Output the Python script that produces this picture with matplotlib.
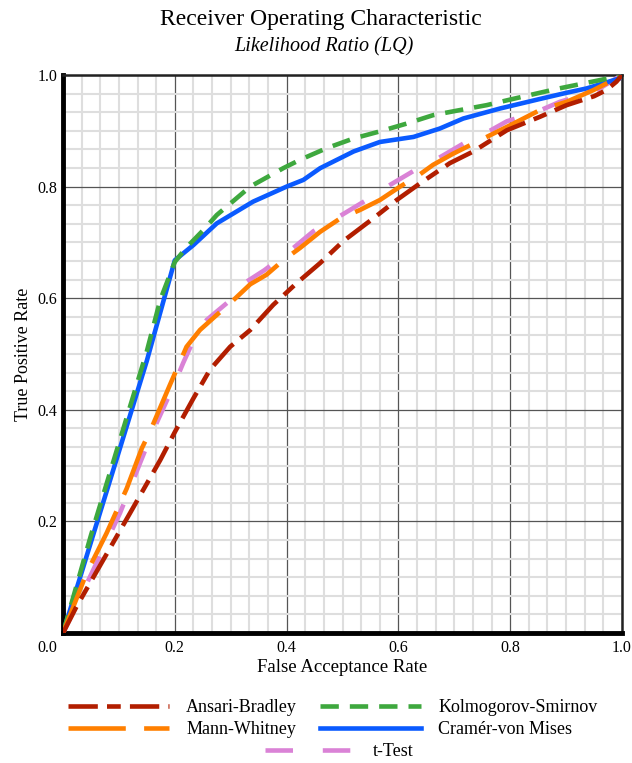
import matplotlib
matplotlib.use("Agg")
import matplotlib.pyplot as plt
import numpy as np
from matplotlib.ticker import MultipleLocator, FixedLocator

plt.rcParams['font.family'] = ['Liberation Serif', 'DejaVu Serif']

# ---- data ----
ab_x = [0, 0.024, 0.072, 0.12, 0.174, 0.2, 0.233, 0.263, 0.299, 0.335, 0.376, 0.418, 0.46, 0.501,
        0.555, 0.597, 0.639, 0.692, 0.734, 0.794, 0.853, 0.901, 0.95, 0.972, 0.99, 1.0]
ab_y = [0, 0.047, 0.131, 0.215, 0.31, 0.36, 0.42, 0.472, 0.513, 0.543, 0.588, 0.627, 0.663, 0.702,
        0.743, 0.776, 0.806, 0.842, 0.863, 0.901, 0.925, 0.946, 0.962, 0.973, 0.988, 1.0]

mw_x = [0, 0.042, 0.078, 0.114, 0.141, 0.156, 0.191, 0.221, 0.245, 0.275, 0.299, 0.335, 0.364, 0.394,
        0.424, 0.46, 0.496, 0.531, 0.567, 0.603, 0.633, 0.662, 0.698, 0.734, 0.782, 0.806, 0.853,
        0.901, 0.949, 0.99, 1.0]
mw_y = [0, 0.107, 0.179, 0.259, 0.331, 0.362, 0.444, 0.513, 0.543, 0.57, 0.591, 0.625, 0.642, 0.668,
        0.69, 0.719, 0.743, 0.758, 0.776, 0.80, 0.818, 0.839, 0.859, 0.877, 0.901, 0.913, 0.937,
        0.952, 0.973, 0.994, 1.0]

ks_x = [0, 0.05, 0.10, 0.15, 0.174, 0.20, 0.22, 0.251, 0.275, 0.335, 0.394, 0.424, 0.472, 0.519,
        0.567, 0.615, 0.662, 0.704, 0.758, 0.80, 0.883, 0.937, 0.99, 1.0]
ks_y = [0, 0.175, 0.34, 0.505, 0.597, 0.665, 0.69, 0.722, 0.749, 0.80, 0.833, 0.848, 0.869, 0.886,
        0.899, 0.913, 0.928, 0.936, 0.946, 0.956, 0.975, 0.986, 0.997, 1.0]

cvm_x = [0, 0.05, 0.10, 0.15, 0.20, 0.233, 0.275, 0.34, 0.40, 0.43, 0.46, 0.52, 0.567, 0.627, 0.674,
         0.716, 0.782, 0.853, 0.90, 0.937, 0.996, 1.0]
cvm_y = [0, 0.163, 0.325, 0.488, 0.668, 0.695, 0.734, 0.773, 0.80, 0.812, 0.833, 0.863, 0.88, 0.889,
         0.904, 0.922, 0.94, 0.957, 0.968, 0.976, 0.994, 1.0]

tt_x = [0, 0.048, 0.102, 0.16, 0.2, 0.215, 0.239, 0.257, 0.30, 0.329, 0.36, 0.40, 0.448, 0.50, 0.543,
        0.58, 0.627, 0.67, 0.716, 0.76, 0.794, 0.85, 0.889, 0.95, 1.0]
tt_y = [0, 0.10, 0.215, 0.36, 0.448, 0.484, 0.537, 0.561, 0.597, 0.63, 0.65, 0.68, 0.72, 0.75, 0.776,
        0.80, 0.828, 0.85, 0.877, 0.898, 0.917, 0.935, 0.952, 0.97, 1.0]

labels = ["Ansari-Bradley", "Mann-Whitney", "Kolmogorov-Smirnov", "Cramér-von Mises", "t-Test"]
colors = ["#b21e00", "#ff7f00", "#3ea83e", "#0a5aff", "#da82d6"]
major_ticks = [0.0, 0.2, 0.4, 0.6, 0.8, 1.0]
tick_labels = ["", "0.2", "0.4", "0.6", "0.8", "1.0"]

# ---- figure ----
fig = plt.figure(figsize=(6.32, 7.63), dpi=100)
ax = fig.add_axes([63/632, 1-633/763, (622-63)/632, (633-75)/763])

lw = 3.3
ax.plot(tt_x, tt_y, color=colors[4], lw=lw, linestyle=(0, (6, 6.5)), label=labels[4], zorder=3,
        dash_capstyle='butt')
ax.plot(cvm_x, cvm_y, color=colors[3], lw=lw, linestyle='-', label=labels[3], zorder=4)
ax.plot(ks_x, ks_y, color=colors[2], lw=lw, linestyle=(0, (4, 2.4)), label=labels[2], zorder=5,
        dash_capstyle='butt')
ax.plot(mw_x, mw_y, color=colors[1], lw=lw, linestyle=(0, (12.5, 4)), label=labels[1], zorder=6,
        dash_capstyle='butt')
ax.plot(ab_x, ab_y, color=colors[0], lw=lw, linestyle=(0, (6.4, 2, 3, 2)), label=labels[0], zorder=7,
        dash_capstyle='butt')

ax.set_xlim(0, 1)
ax.set_ylim(0, 1)
ax.xaxis.set_major_locator(FixedLocator(major_ticks))
ax.yaxis.set_major_locator(FixedLocator(major_ticks))
ax.xaxis.set_minor_locator(MultipleLocator(1/30))
ax.yaxis.set_minor_locator(MultipleLocator(1/30))
ax.set_xticklabels(tick_labels)
ax.set_yticklabels(tick_labels)
ax.tick_params(which='both', length=0)
ax.tick_params(axis='x', pad=5.0, labelsize=11.5)
ax.tick_params(axis='y', pad=4.0, labelsize=11.5)
ax.grid(which='minor', color='#dedede', lw=1.5, zorder=0)
ax.grid(which='major', color='#555555', lw=0.9, zorder=1)
ax.set_axisbelow(True)

for s in ['left', 'bottom']:
    ax.spines[s].set_linewidth(3.5)
    ax.spines[s].set_color('black')
for s in ['top', 'right']:
    ax.spines[s].set_linewidth(1.8)
    ax.spines[s].set_color('#222222')

ax.annotate("0.0", xy=(0, 0), xycoords='data', xytext=(-16, -15), textcoords='offset pixels',
            ha='center', va='center', fontsize=11.5)

ax.set_xlabel("False Acceptance Rate", fontsize=13.5, labelpad=2)
ax.set_ylabel("True Positive Rate", fontsize=13, labelpad=4)

fig.text(0.508, 1-19/763, "Receiver Operating Characteristic", ha='center', va='center', fontsize=17)
fig.text(0.512, 1-47/763, "Likelihood Ratio (LQ)", ha='center', va='center', fontsize=14.5,
         style='italic')

handles, labs = ax.get_legend_handles_labels()
hmap = dict(zip(labs, handles))
common = dict(frameon=False, fontsize=13, handlelength=5.6, handletextpad=0.95,
              borderpad=0, borderaxespad=0, labelspacing=0.28, loc='upper left')
leg1 = fig.legend([hmap[labels[0]], hmap[labels[1]]], labels[:2],
                  bbox_to_anchor=(68/632, 1-699/763), **common)
leg2 = fig.legend([hmap[labels[2]], hmap[labels[3]]], labels[2:4],
                  bbox_to_anchor=(320/632, 1-699/763), **common)
common_t = dict(common)
common_t['handlelength'] = 5.0
leg3 = fig.legend([hmap[labels[4]]], labels[4:],
                  bbox_to_anchor=(265/632, 1-743/763), **common_t)

fig.savefig("out.png", dpi=100)
